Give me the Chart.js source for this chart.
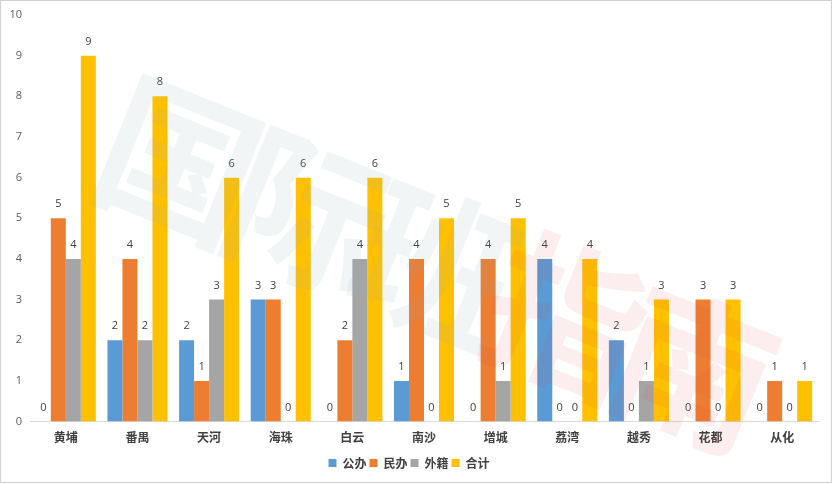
<!DOCTYPE html>
<html>
<head>
<meta charset="utf-8">
<script src="https://cdn.jsdelivr.net/npm/chart.js@4/dist/chart.umd.min.js"></script>
<style>
html,body{margin:0;padding:0;background:#fff;}
#wrap{width:833px;height:484px;position:relative;}
</style>
</head>
<body>
<div id="wrap"><canvas id="c" width="833" height="484"></canvas></div>
<script>
const categories = ['黄埔','番禺','天河','海珠','白云','南沙','增城','荔湾','越秀','花都','从化'];
const seriesNames = ['公办','民办','外籍','合计'];
const gongban = [0,2,2,3,0,1,0,4,2,0,0];
const minban  = [5,4,1,3,2,4,4,0,0,3,1];
const waiji   = [4,2,3,0,4,0,1,0,1,0,0];
const heji    = [9,8,6,6,6,5,5,4,3,3,1];
const yTicks  = [0,1,2,3,4,5,6,7,8,9,10];
const watermark = '国际班指南';

const colors = ['#5B9BD5','#ED7D31','#A5A5A5','#FFC000'];
const seriesData = [gongban, minban, waiji, heji];

const labelPlugin = {
  id:'labels',
  afterDatasetsDraw(chart){
    const ctx = chart.ctx;
    ctx.save();
    ctx.font = '11px "Open Sans", "Noto Sans", sans-serif';
    ctx.fillStyle = '#404040';
    ctx.textAlign = 'center';
    ctx.textBaseline = 'middle';
    chart.data.datasets.forEach((ds, i) => {
      const meta = chart.getDatasetMeta(i);
      meta.data.forEach((el, j) => {
        ctx.fillText(String(ds.data[j]), el.x, el.y - 14);
      });
    });
    ctx.restore();
  }
};

const decoPlugin = {
  id:'deco',
  afterDraw(chart){
    const ctx = chart.ctx;
    ctx.save();
    ctx.translate(437, 265);
    ctx.rotate(22 * Math.PI / 180);
    ctx.font = 'bold 158px "Noto Sans CJK SC", sans-serif';
    ctx.textAlign = 'center';
    ctx.textBaseline = 'middle';
    const chars = watermark.split('');
    chars.forEach((ch, k) => {
      ctx.fillStyle = k < 3 ? 'rgba(150,170,185,0.12)' : 'rgba(225,70,70,0.09)';
      ctx.fillText(ch, (k - 2) * 139, 0);
    });
    ctx.restore();
    ctx.save();
    ctx.strokeStyle = '#d0d0d0';
    ctx.lineWidth = 1;
    ctx.strokeRect(0.5, 0.5, 831, 482);
    ctx.restore();
  }
};

new Chart(document.getElementById('c'), {
  type:'bar',
  data:{
    labels: categories,
    datasets: seriesNames.map((n, i) => ({
      label: n,
      data: seriesData[i],
      backgroundColor: colors[i],
      borderWidth: 0,
      barPercentage: 1,
      categoryPercentage: 0.838
    }))
  },
  options:{
    responsive:false,
    animation:false,
    layout:{padding:{top:15,right:15,left:0,bottom:5}},
    plugins:{
      legend:{
        position:'bottom',
        labels:{
          boxWidth:8, boxHeight:8, padding:3,
          color:'#404040',
          font:{size:12, weight:'bold', family:'"Noto Sans CJK SC", sans-serif'}
        }
      },
      tooltip:{enabled:false}
    },
    scales:{
      x:{
        grid:{display:false, drawTicks:false},
        border:{display:true, color:'#d9d9d9'},
        ticks:{
          padding:9, color:'#404040',
          font:{size:12, weight:'bold', family:'"Noto Sans CJK SC", sans-serif'}
        }
      },
      y:{
        min:0, max:10,
        afterBuildTicks(scale){ scale.ticks = yTicks.map(v => ({value:v})); },
        afterFit(scale){ scale.width = 30; },
        grid:{display:false, drawTicks:false},
        border:{display:false},
        ticks:{
          padding:8, color:'#595959',
          font:{size:11, family:'"Open Sans", "Noto Sans", sans-serif'}
        }
      }
    }
  },
  plugins:[labelPlugin, decoPlugin]
});
</script>
</body>
</html>
